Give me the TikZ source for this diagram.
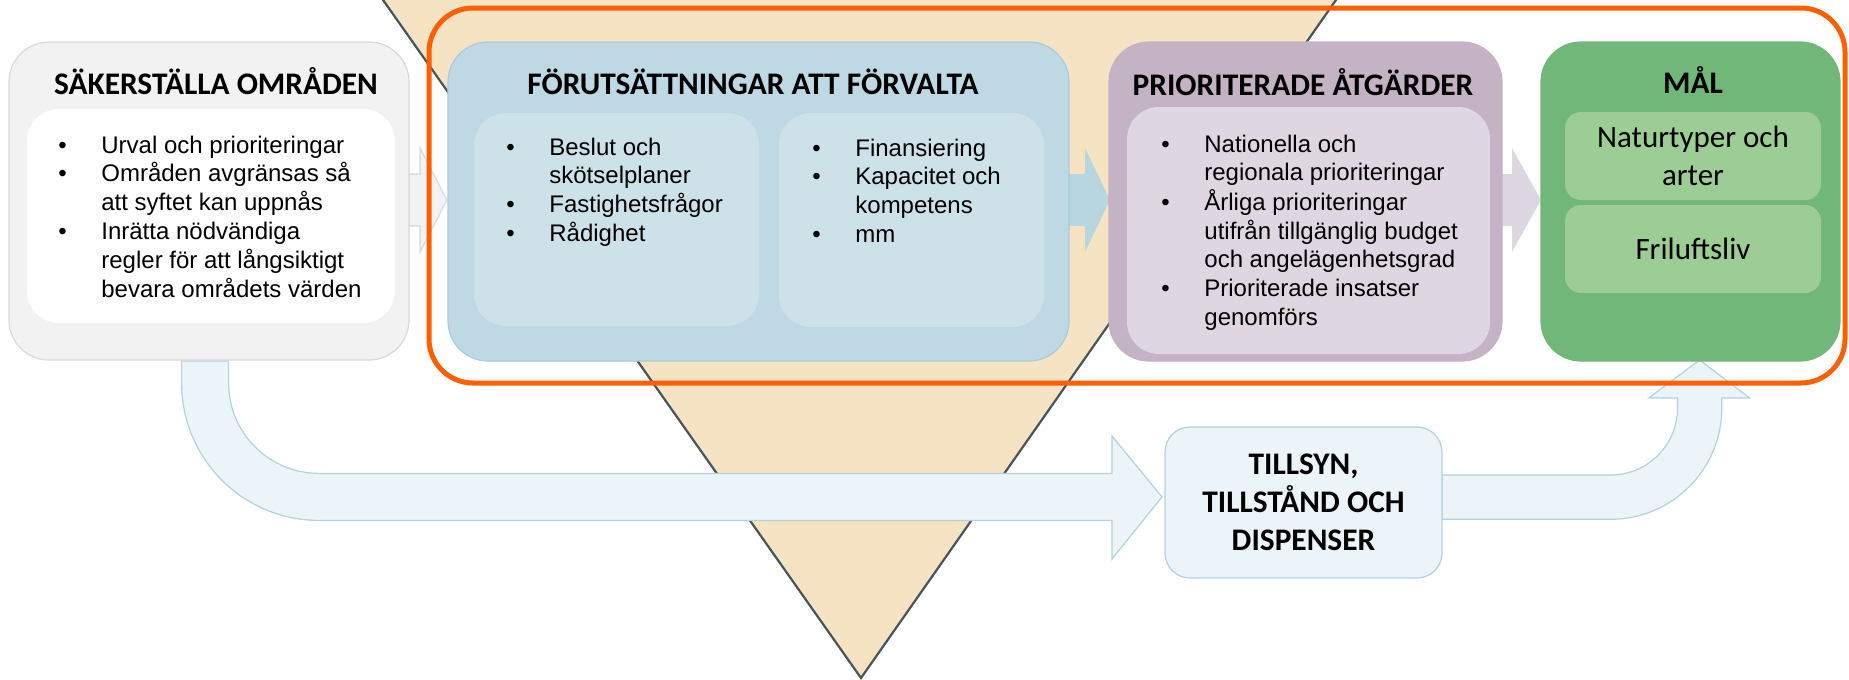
\documentclass[tikz,border=0pt]{standalone}
\usepackage{fontspec}
\setmainfont{Liberation Sans}
\newfontfamily\headfont{Carlito}
\definecolor{sakfill}{RGB}{242,242,242}
\definecolor{sakline}{RGB}{217,217,217}
\definecolor{wheat}{RGB}{245,227,196}
\definecolor{slate}{RGB}{72,84,92}
\definecolor{forvfill}{RGB}{190,217,227}
\definecolor{forvline}{RGB}{170,204,216}
\definecolor{forvin}{RGB}{205,225,232}
\definecolor{forvpil}{RGB}{183,214,224}
\definecolor{priofill}{RGB}{196,178,197}
\definecolor{prioin}{RGB}{222,214,224}
\definecolor{malfill}{RGB}{114,183,122}
\definecolor{malin}{RGB}{155,205,148}
\definecolor{ram}{RGB}{255,95,0}
\definecolor{paleblue}{RGB}{235,244,248}
\definecolor{paleline}{RGB}{178,210,222}
\newcommand\bul{\makebox[21.5pt][l]{\textbullet}}
\newcommand\punkter[1]{\begin{tabular}[t]{@{}l@{}l@{}}#1\end{tabular}}

\begin{document}
\begin{tikzpicture}
        [
            x=0.5pt,
            y=-0.5pt,
            panel/.style={
                draw,
                rounded corners=20pt,
                anchor=north west,
                inner sep=0pt,
                outer sep=0pt,
                line width=0.6pt
            },
            inset/.style={
                rounded corners=16pt,
                anchor=north west,
                inner sep=0pt,
                outer sep=0pt
            },
            head/.style={
                anchor=base,
                inner sep=0pt,
                font=\headfont\bfseries\fontsize{15.7}{19}\selectfont
            },
            punkt/.style={
                anchor=base west,
                inner sep=0pt,
                font=\fontsize{12}{14.4}\selectfont
            },
            goal/.style={
                inner sep=0pt,
                align=center,
                font=\headfont\fontsize{15.5}{19}\selectfont
            },
            flow/.style={
                fill=paleblue,
                draw=paleline,
                line width=0.6pt
            },
            blockpil/.style={
                line width=0.6pt,
                line join=miter
            }
        ]
        \useasboundingbox (0,0) rectangle (1849,680);

        \fill[wheat] (376,-10) -- (861,678) -- (1343,-10) -- cycle;
        \draw[slate, line width=1.1pt] (376,-10) -- (861,678) -- (1343,-10);

        \draw[flow] (181.6,361) -- (181.6,383)
            arc[start angle=180, end angle=270, radius=68.7pt]
            -- (1112,520.4) -- (1112,559) -- (1162,497) -- (1112,436) -- (1112,473.4) -- (319,473.4)
            arc[start angle=270, end angle=180, radius=45.2pt]
            -- (228.6,361) -- cycle;
        \draw[flow] (1442,475) -- (1610.5,475)
            arc[start angle=270, end angle=360, radius=33.5pt]
            -- (1677.5,398) -- (1648.7,398) -- (1699.7,360) -- (1749.6,398) -- (1721.8,398) -- (1721.8,408)
            arc[start angle=0, end angle=-90, radius=55.65pt]
            -- (1442,519.3) -- cycle;

        \draw[blockpil, fill=sakfill, draw=sakline] (405,174) -- (420,174) -- (420,148) -- (447,200)
            -- (420,252) -- (420,226) -- (405,226) -- cycle;
        \fill[forvpil] (1065,174) -- (1085,174) -- (1085,148) -- (1110,200)
            -- (1085,252) -- (1085,226) -- (1065,226) -- cycle;
        \fill[prioin] (1498,174) -- (1512,174) -- (1512,148) -- (1541,200)
            -- (1512,252) -- (1512,226) -- (1498,226) -- cycle;

        \node[panel, fill=sakfill, draw=sakline, minimum width=200pt, minimum height=159pt] (sak) at (9,42) {};
        \node[inset, fill=white, minimum width=184pt, minimum height=107pt] (sakinre) at (27,109) {};
        \node[head] (sakrubrik) at (216,94) {SÄKERSTÄLLA OMRÅDEN};
        \node[punkt] (saklista) at (58,153) {\punkter{\bul & Urval och prioriteringar\\
            \bul & Områden avgränsas så\\ & att syftet kan uppnås\\
            \bul & Inrätta nödvändiga\\ & regler för att långsiktigt\\ & bevara områdets värden}};

        \node[panel, fill=forvfill, draw=forvline, minimum width=310.5pt, minimum height=159.5pt] (forv) at (448,42) {};
        \node[inset, fill=forvin, minimum width=142.5pt, minimum height=106.5pt] (forvvanster) at (474,113) {};
        \node[inset, fill=forvin, minimum width=132.5pt, minimum height=107pt] (forvhoger) at (779,113) {};
        \node[head] (forvrubrik) at (753,94) {FÖRUTSÄTTNINGAR ATT FÖRVALTA};
        \node[punkt] (forvlista) at (506,155) {\punkter{\bul & Beslut och\\ & skötselplaner\\
            \bul & Fastighetsfrågor\\ \bul & Rådighet}};
        \node[punkt] (resurslista) at (812,156) {\punkter{\bul & Finansiering\\
            \bul & Kapacitet och\\ & kompetens\\ \bul & mm}};

        \node[panel, fill=priofill, draw=priofill, minimum width=196.5pt, minimum height=159.5pt] (prio) at (1109,42) {};
        \node[inset, fill=prioin, minimum width=181.5pt, minimum height=123.5pt] (prioinre) at (1127,107) {};
        \node[head] (priorubrik) at (1303,95) {PRIORITERADE ÅTGÄRDER};
        \node[punkt] (priolista) at (1161,152) {\punkter{\bul & Nationella och\\
            & regionala prioriteringar\\ \bul & Årliga prioriteringar\\
            & utifrån tillgänglig budget\\ & och angelägenhetsgrad\\
            \bul & Prioriterade insatser\\ & genomförs}};

        \node[panel, fill=malfill, draw=malfill, minimum width=149.5pt, minimum height=159.5pt] (mal) at (1541,42) {};
        \node[inset, rounded corners=8pt, fill=malin, minimum width=128pt, minimum height=44pt] (malnatur) at (1565,112) {};
        \node[inset, rounded corners=8pt, fill=malin, minimum width=128pt, minimum height=44pt] (malfritid) at (1565,205) {};
        \node[head] (malrubrik) at (1693,93) {MÅL};
        \node[goal] (naturtext) at (malnatur) {Naturtyper och\\arter};
        \node[goal] (fritidtext) at (malfritid) {Friluftsliv};

        \node[panel, rounded corners=12.5pt, fill=paleblue, draw=paleline, minimum width=138.5pt, minimum height=75.5pt] (tillsyn) at (1165,427) {};
        \node[head, anchor=center, align=center] (tillsyntext) at (tillsyn) {TILLSYN,\\TILLSTÅND OCH\\DISPENSER};

        \draw[ram, line width=2.5pt, rounded corners=22pt] (429,8) rectangle (1845,383);
    \end{tikzpicture}
\end{document}
